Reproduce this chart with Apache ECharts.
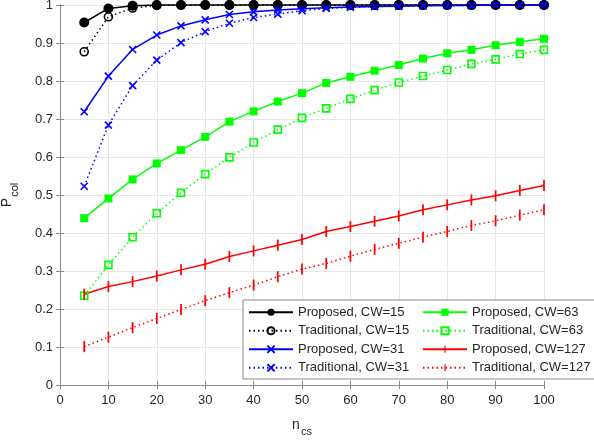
<!DOCTYPE html>
<html>
<head>
<meta charset="utf-8">
<script src="https://cdn.jsdelivr.net/npm/echarts@6/dist/echarts.min.js"></script>
<style>
  html, body { margin: 0; padding: 0; background: #fff; }
  #chart { width: 594px; height: 442px; }
</style>
</head>
<body>
<div id="chart"></div>
<script>
// Number of contending stations
const nCs = [5, 10, 15, 20, 25, 30, 35, 40, 45, 50, 55, 60, 65, 70, 75, 80, 85, 90, 95, 100];

// Collision probability, proposed vs traditional, per contention window
const proposed15    = [0.954, 0.991, 0.998, 1, 1, 1, 1, 1, 1, 1, 1, 1, 1, 1, 1, 1, 1, 1, 1, 1];
const traditional15 = [0.877, 0.969, 0.992, 0.999, 1, 1, 1, 1, 1, 1, 1, 1, 1, 1, 1, 1, 1, 1, 1, 1];
const proposed31    = [0.719, 0.813, 0.883, 0.921, 0.945, 0.961, 0.975, 0.982, 0.987, 0.990, 0.993, 0.995, 0.996, 0.997, 0.998, 0.999, 0.999, 1, 1, 1];
const traditional31 = [0.523, 0.684, 0.788, 0.855, 0.901, 0.930, 0.952, 0.967, 0.976, 0.985, 0.991, 0.994, 0.996, 0.997, 0.998, 0.999, 0.999, 1, 1, 1];
const proposed63    = [0.439, 0.491, 0.541, 0.583, 0.618, 0.653, 0.693, 0.720, 0.746, 0.768, 0.795, 0.811, 0.827, 0.842, 0.859, 0.873, 0.882, 0.894, 0.903, 0.911];
const traditional63 = [0.235, 0.316, 0.389, 0.452, 0.506, 0.555, 0.599, 0.638, 0.672, 0.703, 0.728, 0.753, 0.776, 0.796, 0.813, 0.829, 0.845, 0.857, 0.871, 0.882];
const proposed127   = [0.239, 0.259, 0.272, 0.287, 0.303, 0.318, 0.338, 0.353, 0.368, 0.383, 0.404, 0.417, 0.431, 0.445, 0.461, 0.474, 0.487, 0.498, 0.512, 0.525];
const traditional127= [0.101, 0.126, 0.151, 0.175, 0.199, 0.222, 0.243, 0.263, 0.285, 0.305, 0.320, 0.339, 0.357, 0.373, 0.389, 0.404, 0.420, 0.432, 0.447, 0.461];

const xTicks = [0, 10, 20, 30, 40, 50, 60, 70, 80, 90, 100];
const yTicks = [0, 0.1, 0.2, 0.3, 0.4, 0.5, 0.6, 0.7, 0.8, 0.9, 1];

const FONT = 'Liberation Sans';
const AXIS_COLOR = '#8a8a8a';
const GRID_COLOR = '#e6e6e6';
const DOT = [1.5, 3];

// Marker shapes: a cross drawn as strokes, and a thin vertical bar
// (the bar path carries extra move-to points so its box stays square)
const X_PATH = 'path://M0,0 L10,10 M10,0 L0,10';
const BAR_PATH = 'path://M0,0 M10,10 M4.2,0 L5.8,0 L5.8,10 L4.2,10 Z';

function pairs(ys) {
  return nCs.map((x, i) => [x, ys[i]]);
}

function makeSeries(name, ys, color, dotted, symbol, size, filled) {
  return {
    name: name,
    type: 'line',
    data: pairs(ys),
    clip: false,
    symbol: symbol,
    symbolSize: size,
    showAllSymbol: true,
    lineStyle: { color: color, width: 1.5, type: dotted ? DOT : 'solid' },
    itemStyle: {
      color: filled ? color : 'none',
      borderColor: color,
      borderWidth: filled ? 0 : 1.6
    },
    emphasis: { disabled: true },
    animation: false
  };
}

const series = [
  makeSeries('Proposed, CW=15', proposed15, '#000000', false, 'circle', 10, true),
  makeSeries('Traditional, CW=15', traditional15, '#000000', true, 'circle', 8, false),
  makeSeries('Proposed, CW=31', proposed31, '#0000ff', false, X_PATH, 7, false),
  makeSeries('Traditional, CW=31', traditional31, '#0000ff', true, X_PATH, 7, false),
  makeSeries('Proposed, CW=63', proposed63, '#00ff00', false, 'rect', 8, true),
  makeSeries('Traditional, CW=63', traditional63, '#00ff00', true, 'rect', 7, false),
  makeSeries('Proposed, CW=127', proposed127, '#ff0000', false, BAR_PATH, 11, true),
  makeSeries('Traditional, CW=127', traditional127, '#ff0000', true, BAR_PATH, 11, true)
];

const chart = echarts.init(document.getElementById('chart'), null, { renderer: 'canvas' });

const boxAxis = {
  axisLine: { show: true, lineStyle: { color: AXIS_COLOR, width: 1 } },
  axisTick: { show: true, inside: true, length: 4, lineStyle: { color: AXIS_COLOR } },
  axisLabel: { show: false },
  splitLine: { show: false }
};

const subRich = {
  a: { fontFamily: FONT, fontSize: 14, color: '#262626', lineHeight: 20, verticalAlign: 'top' },
  b: { fontFamily: FONT, fontSize: 11, color: '#262626', lineHeight: 20, verticalAlign: 'bottom', padding: [15, 0, 0, 1] }
};

chart.setOption({
  animation: false,
  backgroundColor: '#ffffff',
  textStyle: { fontFamily: FONT },
  grid: { left: 60, right: 50, top: 5, bottom: 57, containLabel: false, outerBoundsMode: 'none' },
  xAxis: [
    {
      type: 'value', min: xTicks[0], max: xTicks[xTicks.length - 1], interval: 10,
      name: '{a|n}{b|cs}',
      nameLocation: 'middle', nameGap: 31,
      nameTextStyle: { rich: subRich },
      axisLine: { show: true, lineStyle: { color: AXIS_COLOR } },
      axisTick: { show: true, inside: true, length: 4, lineStyle: { color: AXIS_COLOR } },
      axisLabel: { color: '#262626', fontSize: 13, fontFamily: FONT, margin: 9 },
      splitLine: { show: true, lineStyle: { color: GRID_COLOR, width: 1 } }
    },
    Object.assign({ type: 'value', position: 'top', min: 0, max: 100, interval: 10 }, boxAxis)
  ],
  yAxis: [
    {
      type: 'value', min: yTicks[0], max: yTicks[yTicks.length - 1], interval: 0.1,
      name: '{a|P}{b|col}',
      nameLocation: 'middle', nameGap: 40, nameRotate: 90,
      nameTextStyle: { rich: subRich },
      axisLine: { show: true, lineStyle: { color: AXIS_COLOR } },
      axisTick: { show: true, inside: true, length: 4, lineStyle: { color: AXIS_COLOR } },
      axisLabel: { color: '#262626', fontSize: 13, fontFamily: FONT, margin: 7 },
      splitLine: { show: true, lineStyle: { color: GRID_COLOR, width: 1 } }
    },
    Object.assign({ type: 'value', position: 'right', min: 0, max: 1, interval: 0.1 }, boxAxis)
  ],
  legend: {
    orient: 'vertical',
    left: 243, top: 300, height: 78,
    padding: [5, 4, 4, 5],
    itemGap: 4,
    itemWidth: 44, itemHeight: 9,
    backgroundColor: '#ffffff',
    borderColor: '#8a8a8a', borderWidth: 1, borderRadius: 0,
    selectedMode: false,
    textStyle: { fontFamily: FONT, fontSize: 13, lineHeight: 14.5, color: '#262626', width: 120 },
    data: series.map(s => s.name)
  },
  series: series
});
</script>
</body>
</html>
